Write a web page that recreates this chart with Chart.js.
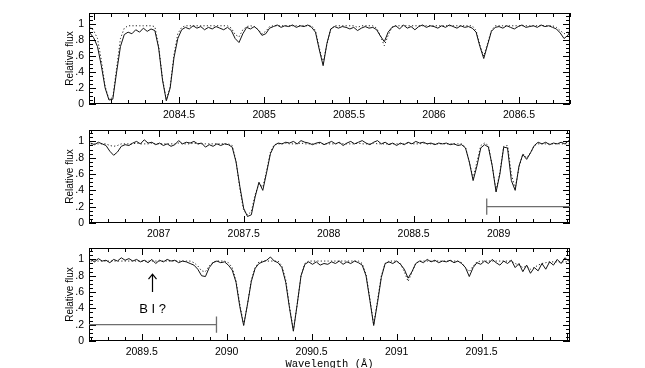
<!DOCTYPE html>
<html>
<head>
<meta charset="utf-8">
<script src="https://cdn.jsdelivr.net/npm/chart.js@4.4.1/dist/chart.umd.min.js"></script>
<style>
  body { margin: 0; width: 645px; height: 368px; overflow: hidden; background: #fff; position: relative; }
  canvas { position: absolute; left: 0; }
</style>
</head>
<body>
<canvas id="panel1" width="645" height="125" style="top:0px"></canvas>
<canvas id="panel2" width="645" height="125" style="top:118px"></canvas>
<canvas id="panel3" width="645" height="136" style="top:236px"></canvas>
<script>
// wavelength grids (A) and fluxes, one set per panel
const p1Wave = [2083.975,2083.9975,2084.02,2084.0425,2084.065,2084.0875,2084.11,2084.1325,2084.155,2084.1775,
  2084.2,2084.2225,2084.245,2084.2675,2084.29,2084.3125,2084.335,2084.3575,2084.38,2084.4025,
  2084.425,2084.4475,2084.47,2084.4925,2084.515,2084.5375,2084.56,2084.5825,2084.605,2084.6275,
  2084.65,2084.6725,2084.695,2084.7175,2084.74,2084.7625,2084.785,2084.8075,2084.83,2084.8525,
  2084.875,2084.8975,2084.92,2084.9425,2084.965,2084.9875,2085.01,2085.0325,2085.055,2085.0775,
  2085.1,2085.1225,2085.145,2085.1675,2085.19,2085.2125,2085.235,2085.2575,2085.28,2085.3025,
  2085.325,2085.3475,2085.37,2085.3925,2085.415,2085.4375,2085.46,2085.4825,2085.505,2085.5275,
  2085.55,2085.5725,2085.595,2085.6175,2085.64,2085.6625,2085.685,2085.7075,2085.73,2085.7525,
  2085.775,2085.7975,2085.82,2085.8425,2085.865,2085.8875,2085.91,2085.9325,2085.955,2085.9775,
  2086,2086.0225,2086.045,2086.0675,2086.09,2086.1125,2086.135,2086.1575,2086.18,2086.2025,
  2086.225,2086.2475,2086.27,2086.2925,2086.315,2086.3375,2086.36,2086.3825,2086.405,2086.4275,
  2086.45,2086.4725,2086.495,2086.5175,2086.54,2086.5625,2086.585,2086.6075,2086.63,2086.6525,
  2086.675,2086.6975,2086.72,2086.7425,2086.765,2086.7875,2086.81];
const p1Obs = [0.89,0.83,0.72,0.48,0.2,0.05,0.06,0.4,0.72,0.87,
  0.9,0.88,0.93,0.9,0.95,0.91,0.94,0.92,0.7,0.3,
  0.04,0.2,0.58,0.82,0.93,0.96,0.94,0.98,0.95,0.97,
  0.93,0.96,0.94,0.97,0.95,0.93,0.96,0.92,0.82,0.77,
  0.88,0.96,0.94,0.97,0.93,0.86,0.88,0.95,0.97,0.99,
  0.96,0.98,0.97,0.99,0.96,0.98,0.97,0.99,0.96,0.9,
  0.68,0.48,0.76,0.94,0.97,0.95,0.97,0.96,0.94,0.96,
  0.92,0.95,0.97,0.95,0.96,0.93,0.85,0.78,0.9,0.96,
  0.98,0.94,0.99,0.95,0.97,0.93,0.97,0.99,0.96,0.98,
  0.97,0.95,0.98,0.96,0.99,0.97,0.95,0.98,0.96,0.97,
  0.95,0.9,0.72,0.57,0.74,0.91,0.96,0.97,0.95,0.98,
  0.96,0.94,0.97,0.99,0.96,0.97,0.98,0.96,0.99,0.97,
  0.98,0.96,0.94,0.89,0.82,0.86,0.95];
const p1Fit = [0.97,0.92,0.82,0.55,0.22,0.06,0.08,0.45,0.82,0.95,
  0.98,0.98,0.98,0.98,0.98,0.98,0.98,0.97,0.72,0.32,
  0.05,0.22,0.62,0.88,0.96,0.98,0.98,0.98,0.98,0.98,
  0.98,0.98,0.98,0.98,0.98,0.98,0.98,0.95,0.87,0.84,
  0.93,0.97,0.98,0.97,0.93,0.88,0.91,0.97,0.98,0.98,
  0.98,0.98,0.98,0.98,0.98,0.98,0.98,0.98,0.98,0.92,
  0.7,0.52,0.75,0.94,0.98,0.98,0.98,0.98,0.98,0.98,
  0.96,0.98,0.98,0.98,0.98,0.95,0.85,0.73,0.86,0.96,
  0.98,0.98,0.98,0.98,0.98,0.98,0.98,0.98,0.98,0.98,
  0.98,0.98,0.98,0.98,0.98,0.98,0.98,0.98,0.98,0.98,
  0.98,0.92,0.74,0.6,0.76,0.92,0.98,0.98,0.98,0.98,
  0.98,0.98,0.98,0.98,0.98,0.98,0.98,0.98,0.98,0.98,
  0.98,0.98,0.96,0.92,0.88,0.9,0.96];

const p2Wave = [2086.6,2086.6225,2086.645,2086.6675,2086.69,2086.7125,2086.735,2086.7575,2086.78,2086.8025,
  2086.825,2086.8475,2086.87,2086.8925,2086.915,2086.9375,2086.96,2086.9825,2087.005,2087.0275,
  2087.05,2087.0725,2087.095,2087.1175,2087.14,2087.1625,2087.185,2087.2075,2087.23,2087.2525,
  2087.275,2087.2975,2087.32,2087.3425,2087.365,2087.3875,2087.41,2087.4325,2087.455,2087.4775,
  2087.5,2087.5225,2087.545,2087.5675,2087.59,2087.6125,2087.635,2087.6575,2087.68,2087.7025,
  2087.725,2087.7475,2087.77,2087.7925,2087.815,2087.8375,2087.86,2087.8825,2087.905,2087.9275,
  2087.95,2087.9725,2087.995,2088.0175,2088.04,2088.0625,2088.085,2088.1075,2088.13,2088.1525,
  2088.175,2088.1975,2088.22,2088.2425,2088.265,2088.2875,2088.31,2088.3325,2088.355,2088.3775,
  2088.4,2088.4225,2088.445,2088.4675,2088.49,2088.5125,2088.535,2088.5575,2088.58,2088.6025,
  2088.625,2088.6475,2088.67,2088.6925,2088.715,2088.7375,2088.76,2088.7825,2088.805,2088.8275,
  2088.85,2088.8725,2088.895,2088.9175,2088.94,2088.9625,2088.985,2089.0075,2089.03,2089.0525,
  2089.075,2089.0975,2089.12,2089.1425,2089.165,2089.1875,2089.21,2089.2325,2089.255,2089.2775,
  2089.3,2089.3225,2089.345,2089.3675,2089.39,2089.4125,2089.435];
const p2Obs = [0.98,0.96,0.99,0.97,0.95,0.88,0.83,0.87,0.94,0.96,
  0.95,0.98,1.0,0.97,1.02,0.98,0.99,0.96,0.98,0.95,
  0.97,0.94,0.96,1.01,0.97,0.99,0.98,1.0,0.97,0.98,
  0.93,0.96,0.94,0.97,0.95,0.97,0.96,0.93,0.75,0.45,
  0.18,0.08,0.1,0.32,0.5,0.4,0.62,0.85,0.95,0.98,
  0.97,0.99,0.98,1.0,0.97,1.01,0.99,0.98,0.96,0.98,
  0.99,0.96,0.98,1.0,0.97,0.99,0.95,0.98,1.0,0.97,
  0.99,1.01,0.98,0.96,0.99,1.01,0.97,0.99,0.96,0.98,
  0.95,0.98,0.96,0.99,0.97,1.0,0.98,0.99,0.97,0.98,
  0.96,0.98,0.97,0.98,0.96,0.97,0.95,0.96,0.92,0.75,
  0.52,0.7,0.92,0.96,0.93,0.7,0.38,0.6,0.93,0.92,
  0.52,0.4,0.7,0.84,0.78,0.86,0.95,0.99,0.97,0.99,
  0.96,0.98,0.97,0.99,0.97,1.01,1.0];
const p2Fit = [0.97,0.97,0.97,0.97,0.97,0.95,0.94,0.95,0.97,0.97,
  0.97,0.97,0.98,0.97,0.97,0.97,0.98,0.97,0.97,0.97,
  0.97,0.97,0.97,0.98,0.97,0.97,0.97,0.98,0.97,0.97,
  0.97,0.97,0.97,0.97,0.97,0.97,0.97,0.95,0.76,0.42,
  0.15,0.1,0.14,0.35,0.48,0.44,0.64,0.87,0.96,0.97,
  0.97,0.98,0.97,0.97,0.97,0.98,0.97,0.97,0.97,0.97,
  0.98,0.97,0.97,0.97,0.97,0.98,0.97,0.97,0.97,0.97,
  0.98,0.97,0.97,0.97,0.98,0.97,0.97,0.97,0.97,0.97,
  0.97,0.97,0.97,0.98,0.97,0.97,0.97,0.98,0.97,0.97,
  0.97,0.97,0.97,0.97,0.97,0.97,0.97,0.97,0.93,0.75,
  0.55,0.75,0.95,0.98,0.95,0.7,0.4,0.62,0.94,0.95,
  0.6,0.42,0.68,0.85,0.8,0.86,0.95,0.97,0.97,0.97,
  0.97,0.97,0.97,0.97,0.97,0.97,0.97];

const p3Wave = [2089.2,2089.2225,2089.245,2089.2675,2089.29,2089.3125,2089.335,2089.3575,2089.38,2089.4025,
  2089.425,2089.4475,2089.47,2089.4925,2089.515,2089.5375,2089.56,2089.5825,2089.605,2089.6275,
  2089.65,2089.6725,2089.695,2089.7175,2089.74,2089.7625,2089.785,2089.8075,2089.83,2089.8525,
  2089.875,2089.8975,2089.92,2089.9425,2089.965,2089.9875,2090.01,2090.0325,2090.055,2090.0775,
  2090.1,2090.1225,2090.145,2090.1675,2090.19,2090.2125,2090.235,2090.2575,2090.28,2090.3025,
  2090.325,2090.3475,2090.37,2090.3925,2090.415,2090.4375,2090.46,2090.4825,2090.505,2090.5275,
  2090.55,2090.5725,2090.595,2090.6175,2090.64,2090.6625,2090.685,2090.7075,2090.73,2090.7525,
  2090.775,2090.7975,2090.82,2090.8425,2090.865,2090.8875,2090.91,2090.9325,2090.955,2090.9775,
  2091,2091.0225,2091.045,2091.0675,2091.09,2091.1125,2091.135,2091.1575,2091.18,2091.2025,
  2091.225,2091.2475,2091.27,2091.2925,2091.315,2091.3375,2091.36,2091.3825,2091.405,2091.4275,
  2091.45,2091.4725,2091.495,2091.5175,2091.54,2091.5625,2091.585,2091.6075,2091.63,2091.6525,
  2091.675,2091.6975,2091.72,2091.7425,2091.765,2091.7875,2091.81,2091.8325,2091.855,2091.8775,
  2091.9,2091.9225,2091.945,2091.9675,2091.99,2092.0125,2092.035];
const p3Obs = [1.0,0.97,1.01,0.98,0.99,0.96,1.0,0.98,1.02,0.99,
  1.01,0.98,1.0,0.97,0.99,0.96,1.0,0.95,0.99,0.97,
  1.0,0.98,0.99,0.96,0.98,0.97,0.95,0.93,0.88,0.8,
  0.79,0.9,0.96,0.98,0.96,0.97,0.93,0.87,0.72,0.42,
  0.19,0.45,0.73,0.89,0.95,0.97,0.99,1.03,0.98,0.96,
  0.9,0.72,0.4,0.12,0.45,0.8,0.94,0.97,0.94,0.97,
  0.93,0.95,0.94,0.97,0.95,0.98,0.94,0.97,0.95,0.98,
  0.96,0.93,0.8,0.5,0.19,0.47,0.78,0.95,0.97,0.95,
  0.98,0.94,0.88,0.77,0.85,0.95,0.98,0.96,1.0,0.97,
  0.99,0.96,0.98,0.97,0.99,0.96,0.98,0.95,0.9,0.79,
  0.9,0.96,0.94,0.98,0.95,1.0,0.96,0.93,0.98,0.95,
  0.99,0.9,0.95,0.85,0.93,0.83,0.9,0.86,0.95,0.88,
  0.97,0.93,1.0,0.95,1.02,0.98,1.06];
const p3Fit = [0.98,0.98,0.98,0.98,0.98,0.98,0.98,0.98,0.98,0.98,
  0.98,0.98,0.98,0.98,0.98,0.98,0.98,0.98,0.98,0.98,
  0.98,0.98,0.98,0.98,0.98,0.98,0.98,0.96,0.92,0.86,
  0.85,0.92,0.97,0.98,0.98,0.98,0.96,0.9,0.74,0.45,
  0.2,0.45,0.75,0.9,0.97,0.98,0.98,0.98,0.98,0.98,
  0.92,0.75,0.42,0.13,0.45,0.8,0.95,0.98,0.98,0.98,
  0.98,0.98,0.98,0.98,0.98,0.98,0.98,0.98,0.98,0.98,
  0.98,0.95,0.82,0.52,0.2,0.5,0.8,0.95,0.98,0.98,
  0.98,0.95,0.85,0.73,0.84,0.95,0.98,0.98,0.98,0.98,
  0.98,0.98,0.98,0.98,0.98,0.98,0.98,0.96,0.9,0.85,
  0.92,0.97,0.98,0.98,0.98,0.98,0.98,0.98,0.98,0.98,
  0.98,0.95,0.93,0.9,0.92,0.88,0.9,0.93,0.95,0.96,
  0.97,0.97,0.97,0.97,0.97,0.97,0.97];

// axis limits and tick labels
const p1Range = [2083.97, 2086.80];
const p2Range = [2086.59, 2089.42];
const p3Range = [2089.19, 2092.02];
const p1Ticks = [2084.5, 2085, 2085.5, 2086, 2086.5];
const p2Ticks = [2087, 2087.5, 2088, 2088.5, 2089];
const p3Ticks = [2089.5, 2090, 2090.5, 2091, 2091.5];
const fluxTicks = [0, 0.2, 0.4, 0.6, 0.8, 1];
const fluxMax = 1.14;

// marked wavelength interval, arrow and its label
const markRange = [2088.93, 2089.94];
const markFlux = 0.2;
const arrowWave = 2089.56;
const arrowFlux = [0.6, 0.82];
const arrowText = 'B I ?';
const arrowTextFlux = 0.39;

Chart.defaults.font.family = '"Liberation Sans", Arial, sans-serif';
Chart.defaults.color = '#000';

// box + inward ticks on all four sides
const frame = {
  id: 'frame',
  afterDatasetsDraw(chart) {
    const { ctx, chartArea: a, scales: { x, y } } = chart;
    ctx.save();
    ctx.strokeStyle = '#000';
    ctx.lineWidth = 1;
    ctx.strokeRect(a.left + 0.5, a.top + 0.5, a.right - a.left - 1, a.bottom - a.top - 1);
    ctx.beginPath();
    for (let k = Math.ceil(x.min * 10 - 1e-6); k <= x.max * 10 + 1e-6; k++) {
      const px = Math.round(x.getPixelForValue(k / 10)) + 0.5;
      const len = k % 5 === 0 ? 7 : 4;
      ctx.moveTo(px, a.bottom); ctx.lineTo(px, a.bottom - len);
      ctx.moveTo(px, a.top); ctx.lineTo(px, a.top + len);
    }
    for (let k = 0; k * 0.05 <= y.max + 1e-6; k++) {
      const py = Math.round(y.getPixelForValue(k * 0.05)) + 0.5;
      const len = k % 4 === 0 ? 7 : 4;
      ctx.moveTo(a.left, py); ctx.lineTo(a.left + len, py);
      ctx.moveTo(a.right, py); ctx.lineTo(a.right - len, py);
    }
    ctx.stroke();
    ctx.restore();
  }
};

function markBar(chart, from, to, endAt) {
  const { ctx, scales: { x, y } } = chart;
  const x0 = x.getPixelForValue(Math.max(from, x.min));
  const x1 = x.getPixelForValue(Math.min(to, x.max));
  const py = y.getPixelForValue(markFlux);
  ctx.save();
  ctx.strokeStyle = '#6e6e6e';
  ctx.lineWidth = 1.3;
  ctx.beginPath();
  ctx.moveTo(x0, py); ctx.lineTo(x1, py);
  const xe = x.getPixelForValue(endAt);
  ctx.moveTo(xe, y.getPixelForValue(0.1)); ctx.lineTo(xe, y.getPixelForValue(0.3));
  ctx.stroke();
  ctx.restore();
}

function panel(id, wave, obs, fit, range, ticks, opts) {
  const xScale = {
    type: 'linear',
    min: range[0],
    max: range[1],
    afterBuildTicks: s => { s.ticks = ticks.map(v => ({ value: v })); },
    afterFit: s => { s.height = opts.xHeight; },
    grid: { display: false, drawTicks: false },
    border: { display: false },
    ticks: { padding: 5, maxRotation: 0, autoSkip: false, font: { size: 10.5 }, callback: v => String(v) }
  };
  if (opts.xTitle) {
    xScale.title = {
      display: true, text: opts.xTitle,
      font: { family: '"Liberation Mono", "DejaVu Sans Mono", monospace', size: 10.5 },
      padding: { top: 0, bottom: 1 }
    };
  }
  return new Chart(document.getElementById(id), {
    type: 'line',
    data: {
      datasets: [
        { data: wave.map((w, i) => ({ x: w, y: obs[i] })), borderColor: '#111', borderWidth: 1 },
        { data: wave.map((w, i) => ({ x: w, y: fit[i] })), borderColor: '#222', borderWidth: 1, borderDash: [1.2, 2.2] }
      ]
    },
    options: {
      responsive: false,
      animation: false,
      devicePixelRatio: 1,
      layout: { padding: { top: opts.top, right: 75, left: 0, bottom: 0 } },
      elements: { point: { radius: 0 }, line: { tension: 0, fill: false } },
      plugins: { legend: { display: false }, tooltip: { enabled: false } },
      scales: {
        x: xScale,
        y: {
          min: 0,
          max: fluxMax,
          afterBuildTicks: s => { s.ticks = fluxTicks.map(v => ({ value: v })); },
          afterFit: s => { s.width = 89; },
          grid: { display: false, drawTicks: false },
          border: { display: false },
          ticks: {
            padding: 5, font: { size: 10.5 },
            callback: v => (v === 0 || v === 1) ? String(v) : String(v).replace(/^0/, '')
          },
          title: { display: true, text: 'Relative flux', font: { size: 10 }, padding: { top: 64, bottom: 0 } }
        }
      }
    },
    plugins: [frame, { id: 'extra', afterDatasetsDraw: c => opts.extra && opts.extra(c) }]
  });
}

panel('panel1', p1Wave, p1Obs, p1Fit, p1Range, p1Ticks, { top: 13, xHeight: 21 });

panel('panel2', p2Wave, p2Obs, p2Fit, p2Range, p2Ticks, {
  top: 12, xHeight: 20,
  extra: c => markBar(c, markRange[0], markRange[1], markRange[0])
});

panel('panel3', p3Wave, p3Obs, p3Fit, p3Range, p3Ticks, {
  top: 12, xHeight: 31, xTitle: 'Wavelength (\u00C5)',
  extra: c => {
    markBar(c, markRange[0], markRange[1], markRange[1]);
    const { ctx, scales: { x, y } } = c;
    const ax = Math.round(x.getPixelForValue(arrowWave)) + 0.5;
    const yTail = y.getPixelForValue(arrowFlux[0]);
    const yTip = y.getPixelForValue(arrowFlux[1]);
    ctx.save();
    ctx.strokeStyle = '#000';
    ctx.lineWidth = 1.2;
    ctx.beginPath();
    ctx.moveTo(ax, yTail); ctx.lineTo(ax, yTip);
    ctx.moveTo(ax - 4, yTip + 5); ctx.lineTo(ax, yTip); ctx.lineTo(ax + 4, yTip + 5);
    ctx.stroke();
    ctx.fillStyle = '#000';
    ctx.font = '13px "Liberation Sans", Arial, sans-serif';
    ctx.textAlign = 'center';
    ctx.textBaseline = 'middle';
    ctx.fillText(arrowText, ax, y.getPixelForValue(arrowTextFlux));
    ctx.restore();
  }
});
</script>
</body>
</html>
